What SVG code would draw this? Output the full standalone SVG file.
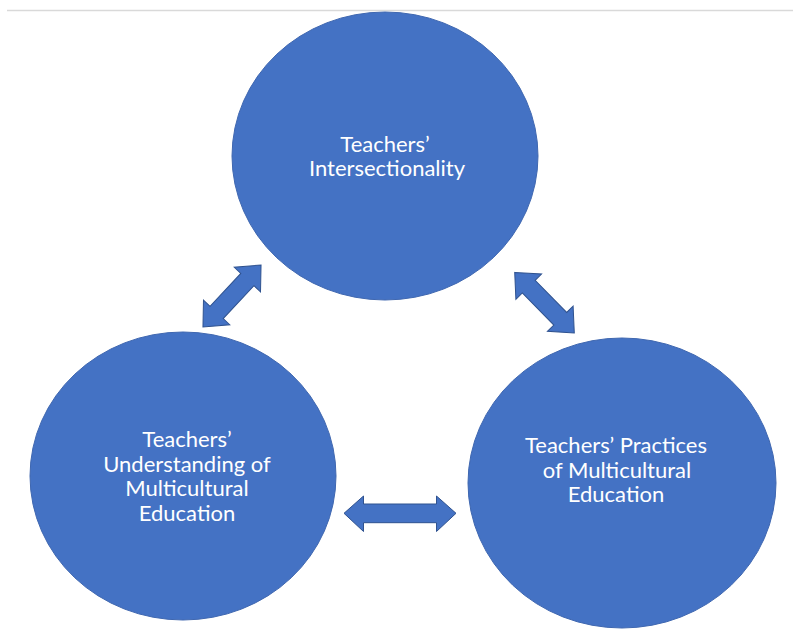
<svg xmlns="http://www.w3.org/2000/svg" xmlns:xlink="http://www.w3.org/1999/xlink" width="793" height="641" viewBox="0 0 793 641">
  <style>
    .node { fill: #4472C4; stroke: #3F67B0; stroke-width: 1; }
    .label { fill: #FFFFFF; font-family: Lato, "Open Sans", "Liberation Sans", sans-serif; font-size: 22px; text-anchor: middle; }
    .arrow { fill: #4472C4; stroke: #2F528F; stroke-width: 1; stroke-linejoin: miter; }
  </style>
  <defs>
    <!-- double-headed block arrow, centred on the origin, pointing along x -->
    <polygon id="dbl-arrow" points="-42.5,0 -22.5,-18 -22.5,-9 22.5,-9 22.5,-18 42.5,0 22.5,18 22.5,9 -22.5,9 -22.5,18"/>
  </defs>
  <rect width="793" height="641" fill="#FFFFFF"/>
  <!-- header rule -->
  <line x1="7" y1="10.5" x2="793" y2="10.5" stroke="#D9D9D9" stroke-width="1.5"/>

  <g id="connectors">
    <use xlink:href="#dbl-arrow" class="arrow" transform="translate(232 296) rotate(-46.9)"/>
    <use xlink:href="#dbl-arrow" class="arrow" transform="translate(544.5 302.7) rotate(45.5)"/>
    <polygon class="arrow" points="344,513.3 363.5,496 363.5,504 436.5,504 436.5,496 456,513.3 436.5,531.5 436.5,522.7 363.5,522.7 363.5,531.5"/>
  </g>

  <g id="intersectionality">
    <ellipse class="node" cx="385" cy="156" rx="153" ry="144"/>
    <text class="label" x="385" y="151.7">Teachers’</text>
    <text class="label" x="387" y="175.5">Intersectionality</text>
  </g>

  <g id="understanding">
    <ellipse class="node" cx="183" cy="476" rx="153" ry="144"/>
    <text class="label" x="187" y="446.7">Teachers’</text>
    <text class="label" x="187" y="471.5">Understanding of</text>
    <text class="label" x="187" y="496">Multicultural</text>
    <text class="label" x="187" y="520.5">Education</text>
  </g>

  <g id="practices">
    <ellipse class="node" cx="622" cy="483" rx="154" ry="145"/>
    <text class="label" x="616" y="453">Teachers’ Practices</text>
    <text class="label" x="617" y="477.5">of Multicultural</text>
    <text class="label" x="616" y="502">Education</text>
  </g>
</svg>
